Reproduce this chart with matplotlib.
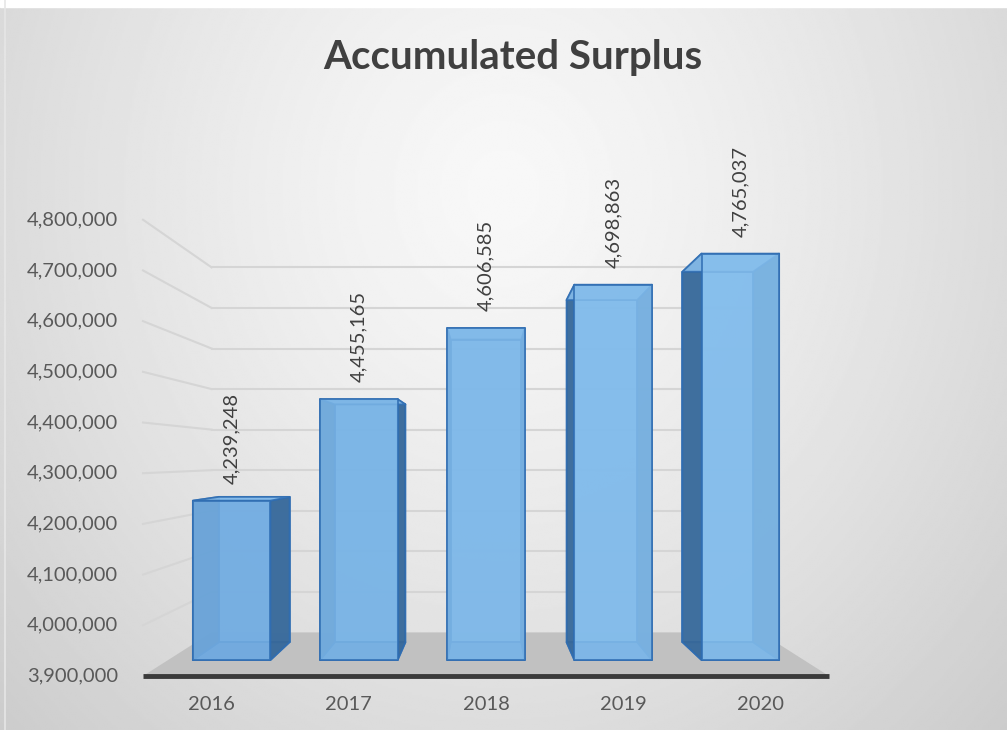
import numpy as np
import matplotlib
matplotlib.use("Agg")
import matplotlib.pyplot as plt
from matplotlib.colors import to_rgba, to_rgb
from mpl_toolkits.mplot3d.art3d import Poly3DCollection

years = ["2016", "2017", "2018", "2019", "2020"]
surplus = [4239248, 4455165, 4606585, 4698863, 4765037]
ticks = [3900000, 4000000, 4100000, 4200000, 4300000,
         4400000, 4500000, 4600000, 4700000, 4800000]
title = "Accumulated Surplus"

W, H = 1007, 730
base = ticks[0]
z_top = 4760000          # box top; the eye sits at mid height
floor_depth = 1.45       # in category widths
bar_w = 0.61
bar_y0 = 0.457           # front of the bars, measured from the floor front
z_per_100k = 0.3695      # height of 100k in category widths

plt.rcParams["font.family"] = ["Lato", "DejaVu Sans"]
fig = plt.figure(figsize=(W / 100, H / 100), dpi=100)

# soft grey backdrop, brightest near the top middle
bg = fig.add_axes([0, 0, 1, 1])
gx, gy = np.meshgrid(np.linspace(0, 1, 500), np.linspace(0, 1, 360))
r = np.sqrt(((gx - 0.5) / 0.62) ** 2 + ((gy - 0.74) / 0.95) ** 2)
shade = np.clip(248 - 38 * r ** 1.3, 196, 250) / 255
bg.imshow(shade, cmap="gray", vmin=0, vmax=1, extent=(0, 1, 0, 1),
          origin="lower", aspect="auto", interpolation="bilinear")
bg.axhspan(0.99, 1, color="white")
bg.axvline(0.005, color="#E6E6E6", lw=1.2)
bg.set_xlim(0, 1)
bg.set_ylim(0, 1)
bg.axis("off")

ax = fig.add_axes([0.1, 0.05, 0.8, 0.8], projection="3d", computed_zorder=False)
ax.set_facecolor("none")
ax.set_axis_off()

n = len(years)
xlo, xhi = -0.5, n - 0.5

# floor
floor = Poly3DCollection([[(xlo, 0, base), (xhi, 0, base),
                           (xhi, floor_depth, base), (xlo, floor_depth, base)]],
                         facecolor="#C1C1C1", edgecolor="none", zorder=1)
ax.add_collection3d(floor)

# gridlines on back and left walls
for t in ticks[1:]:
    ax.plot([xlo, xhi], [floor_depth, floor_depth], [t, t],
            color="#D5D5D5", lw=1.5, zorder=2)
    ax.plot([xlo, xlo], [0, floor_depth], [t, t],
            color="#D5D5D5", lw=1.5, zorder=2)

ax.plot([xlo, xhi], [0, 0], [base, base], color="#3A3A3A", lw=3.5,
        solid_capstyle="butt", zorder=20)

# bars
lo_c = np.array(to_rgb("#6AA4DB"))
hi_c = np.array(to_rgb("#86BFED"))
for i, v in enumerate(surplus):
    x0, x1 = i - bar_w / 2, i + bar_w / 2
    y0, y1 = bar_y0, bar_y0 + bar_w
    frac = (v - base) / (ticks[-1] - base)
    front = tuple(lo_c + (hi_c - lo_c) * frac)
    faces = [
        [(x0, y1, base), (x1, y1, base), (x1, y1, v), (x0, y1, v)],        # back
        [(x0, y0, base), (x1, y0, base), (x1, y1, base), (x0, y1, base)],  # bottom
        [(x0, y0, base), (x0, y1, base), (x0, y1, v), (x0, y0, v)],        # left
        [(x1, y0, base), (x1, y1, base), (x1, y1, v), (x1, y0, v)],        # right
        [(x0, y0, v), (x1, y0, v), (x1, y1, v), (x0, y1, v)],              # top
        [(x0, y0, base), (x1, y0, base), (x1, y0, v), (x0, y0, v)],        # front
    ]
    colors = [to_rgba(front, 0.85), to_rgba("#5B93CB", 0.85),
              to_rgba("#386898", 0.92), to_rgba("#386898", 0.92),
              to_rgba("#86BCEA", 0.9), to_rgba(front, 0.86)]
    box = Poly3DCollection(faces, facecolors=colors,
                           edgecolors=to_rgba("#2F6DB2", 0.85),
                           linewidths=1.3, zorder=5)
    ax.add_collection3d(box)

ax.set_xlim(xlo, xhi)
ax.set_ylim(0, floor_depth)
ax.set_zlim(base, z_top)
aspect = np.array([xhi - xlo, floor_depth, (z_top - base) / 100000 * z_per_100k])
ax.set_box_aspect(tuple(aspect))

# camera straight in front, four floor depths ahead of the floor front
k = 1.8294640721620434 * 25 / 24 / np.linalg.norm(aspect)
eye = (4 * floor_depth + floor_depth / 2) * k
ax.view_init(elev=0, azim=-90)
ax.set_proj_type("persp", focal_length=eye / getattr(ax, "_dist", 10))

fig.text(0.509, 0.921, title, ha="center", va="center", fontsize=29,
         fontweight="bold", color="#404040")

# place the axes so the floor's front edge runs from x=143 to x=829 at y=54
fig.canvas.draw()
M = ax.get_proj()


def project(x, y, z):
    p = M @ np.array([x, y, z, 1.0])
    return p[0] / p[3], p[1] / p[3]


fl = ax.transData.transform(project(xlo, 0, base))
fr = ax.transData.transform(project(xhi, 0, base))
bb = ax.get_position()
ax0, ay0, aw, ah = bb.x0 * W, bb.y0 * H, bb.width * W, bb.height * H
uL, uR = (fl[0] - ax0) / aw, (fr[0] - ax0) / aw
vL = (fl[1] - ay0) / ah
new_w = (829 - 143) / (uR - uL)
new_h = new_w * ah / aw
ax.set_position([(143 - uL * new_w) / W, (54 - vL * new_h) / H,
                 new_w / W, new_h / H])

# axis and value labels, anchored at projected 3D points
for t in ticks:
    ax.text2D(*project(xlo - 0.18, 0, t), f"{t:,}", transform=ax.transData,
              ha="right", va="center", fontsize=14.5, color="#595959", zorder=30)
for i, y in enumerate(years):
    ax.text2D(*project(i, 0, base - 57000), y, transform=ax.transData,
              ha="center", va="center", fontsize=14.5, color="#595959", zorder=30)
for i, v in enumerate(surplus):
    ax.text2D(*project(i, bar_y0, v + 36000), f"{v:,}", transform=ax.transData,
              rotation=90, ha="center", va="bottom", fontsize=14.5,
              color="#404040", zorder=30)

fig.savefig("out.png", dpi=100)
